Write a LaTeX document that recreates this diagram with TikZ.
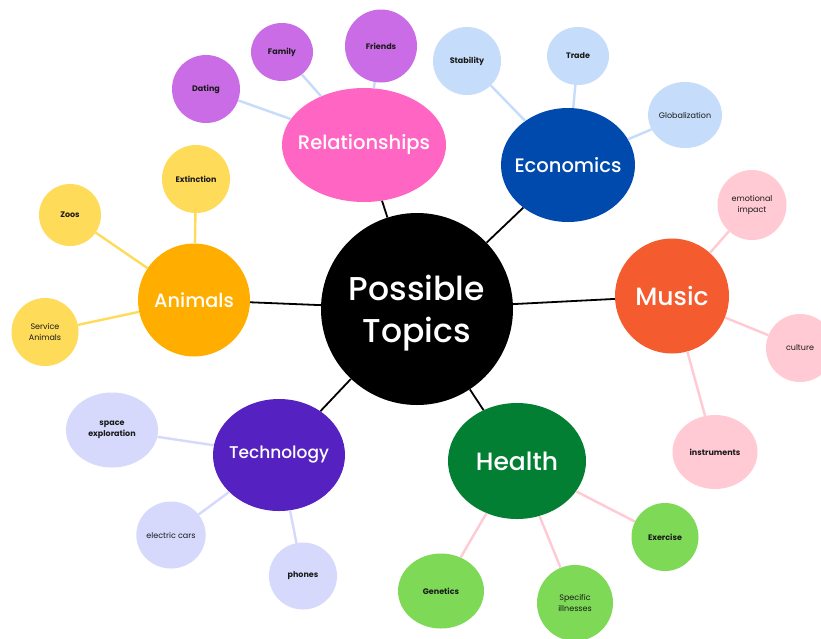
\documentclass[tikz,border=0pt]{standalone}
\usepackage{fontspec}
\setmainfont{Poppins}
\newfontfamily\medfont{Poppins Medium}
\usetikzlibrary{shapes.geometric}
\definecolor{cpink}{HTML}{FF66C4}
\definecolor{cblue}{HTML}{004AAD}
\definecolor{corange}{HTML}{F45B2F}
\definecolor{camber}{HTML}{FFAE00}
\definecolor{cviolet}{HTML}{5521C0}
\definecolor{cgreen}{HTML}{037F34}
\definecolor{lpurple}{HTML}{C96CE6}
\definecolor{lblue}{HTML}{C5DCFA}
\definecolor{lpink}{HTML}{FFCAD4}
\definecolor{lyellow}{HTML}{FFDB5A}
\definecolor{llav}{HTML}{D6D9FC}
\definecolor{lgreen}{HTML}{7ED957}
\definecolor{ink}{HTML}{1A1A1A}
\begin{document}
\begin{tikzpicture}[x=1pt,y=-1pt,
  bub/.style={ellipse,inner sep=0pt},
  mainlbl/.style 2 args={label={[text=white,align=center,inner sep=0pt,font=\fontsize{#1}{#2}\selectfont\medfont]center:##1}},
  subb/.style={bub,text=ink,align=center,font=\fontsize{8}{11}\selectfont},
  subbold/.style={subb,font=\fontsize{8}{11}\selectfont\bfseries},
  hub/.style={line width=1.8pt,draw=black},
  spoke/.style={line width=2.4pt}]
\useasboundingbox[fill=white] (0,0) rectangle (821,638);

% hub
\node[bub,fill=black,minimum width=192pt,minimum height=192pt,
  label={[text=white,align=center,inner sep=0pt,yshift=-4pt,font=\fontsize{33}{42}\selectfont\medfont]center:Possible\\Topics}] (c) at (417,309) {};

% main topics
\node[bub,fill=cpink,minimum width=164pt,minimum height=114pt,
  label={[text=white,inner sep=0pt,font=\fontsize{19.5}{22}\selectfont\medfont]center:Relationships}] (rel) at (364,145) {};
\node[bub,fill=cblue,minimum width=134pt,minimum height=114pt,
  label={[text=white,inner sep=0pt,font=\fontsize{19.5}{22}\selectfont\medfont]center:Economics}] (eco) at (568,165) {};
\node[bub,fill=corange,minimum width=114pt,minimum height=115pt,
  label={[text=white,inner sep=0pt,font=\fontsize{25}{28}\selectfont\medfont]center:Music}] (mus) at (672,296) {};
\node[bub,fill=camber,minimum width=112pt,minimum height=113pt,
  label={[text=white,inner sep=0pt,font=\fontsize{19.3}{22}\selectfont\medfont]center:Animals}] (ani) at (194,300) {};
\node[bub,fill=cviolet,minimum width=132pt,minimum height=112pt,
  label={[text=white,inner sep=0pt,font=\fontsize{17}{20}\selectfont\medfont]center:Technology}] (tec) at (279,455) {};
\node[bub,fill=cgreen,minimum width=138pt,minimum height=116pt,
  label={[text=white,inner sep=0pt,font=\fontsize{25}{28}\selectfont\medfont]center:Health}] (hea) at (517,461) {};

% relationships children
\node[subbold,fill=lpurple,minimum width=68pt,minimum height=68pt] (dat) at (206,89) {Dating};
\node[subbold,fill=lpurple,minimum width=62pt,minimum height=58pt] (fam) at (282,52) {Family};
\node[subbold,fill=lpurple,minimum width=72pt,minimum height=73pt] (fri) at (381,46) {Friends};
% economics children
\node[subbold,fill=lblue,minimum width=68pt,minimum height=68pt] (sta) at (467,61) {Stability};
\node[subbold,fill=lblue,minimum width=62pt,minimum height=58pt] (tra) at (578,56) {Trade};
\node[subb,fill=lblue,minimum width=67pt,minimum height=66pt] (glo) at (685,115) {Globalization};
% music children
\node[subb,fill=lpink,minimum width=69pt,minimum height=70pt] (emo) at (752,205) {emotional\\impact};
\node[subb,fill=lpink,minimum width=68pt,minimum height=68pt] (cul) at (800,348) {culture};
\node[subbold,fill=lpink,minimum width=85pt,minimum height=74pt] (ins) at (715,452) {instruments};
% animals children
\node[subbold,fill=lyellow,minimum width=68pt,minimum height=68pt] (ext) at (196,179) {Extinction};
\node[subbold,fill=lyellow,minimum width=62pt,minimum height=62pt] (zoo) at (70,215) {Zoos};
\node[subb,fill=lyellow,minimum width=67pt,minimum height=68pt] (ser) at (45,332) {Service\\Animals};
% technology children
\node[subbold,fill=llav,minimum width=92pt,minimum height=75pt] (spa) at (112,430) {space\\exploration};
\node[subb,fill=llav,minimum width=67pt,minimum height=67pt] (ele) at (171,535) {electric cars};
\node[subbold,fill=llav,minimum width=68pt,minimum height=67pt] (pho) at (303,576) {phones};
% health children
\node[subbold,fill=lgreen,minimum width=67pt,minimum height=68pt] (exe) at (665,537) {Exercise};
\node[subbold,fill=lgreen,minimum width=86pt,minimum height=75pt] (gen) at (441,591) {Genetics};
\node[subb,fill=lgreen,minimum width=76pt,minimum height=76pt] (spe) at (575,603) {Specific\\illnesses};

% hub connectors
\foreach \t in {rel,eco,mus,ani,tec,hea} \draw[hub] (c) -- (\t);

% child connectors
\foreach \t in {dat,fam,fri} \draw[spoke,draw=lblue] (rel) -- (\t);
\foreach \t in {sta,tra,glo} \draw[spoke,draw=lblue] (eco) -- (\t);
\foreach \t in {emo,cul,ins} \draw[spoke,draw=lpink] (mus) -- (\t);
\foreach \t in {ext,zoo,ser} \draw[spoke,draw=lyellow] (ani) -- (\t);
\foreach \t in {spa,ele,pho} \draw[spoke,draw=llav] (tec) -- (\t);
\foreach \t in {exe,gen,spe} \draw[spoke,draw=lpink] (hea) -- (\t);
\end{tikzpicture}
\end{document}
